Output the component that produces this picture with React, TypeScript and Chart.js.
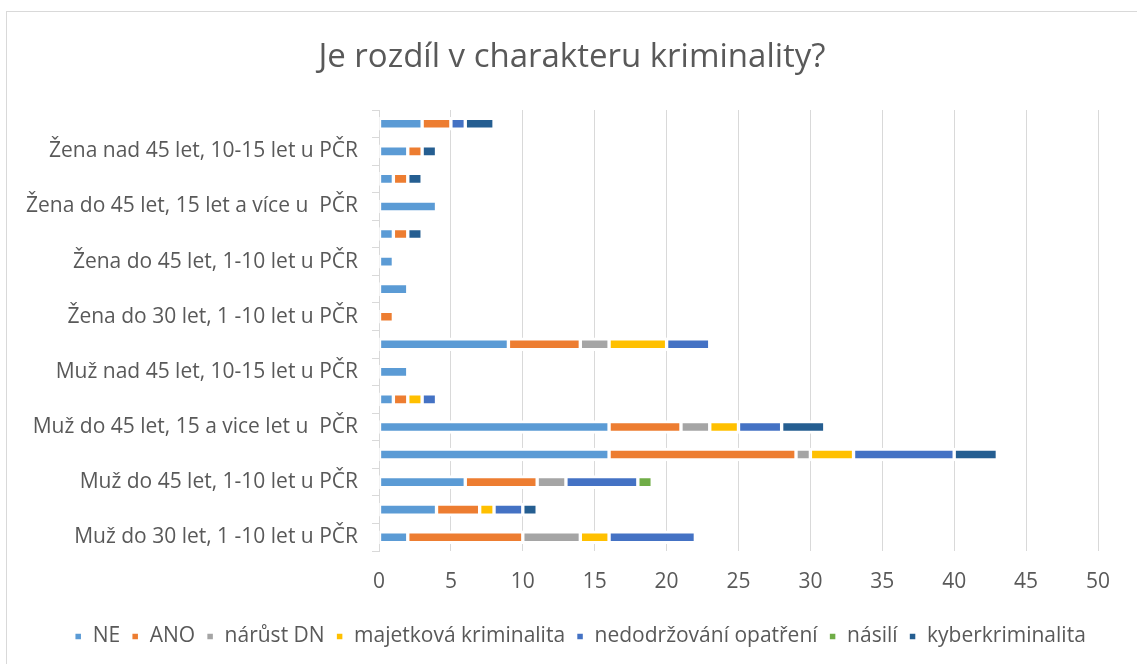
import React, { useEffect, useRef } from "react";
import { Chart, registerables } from "chart.js";

Chart.register(...registerables);

const categories = [
  "Muž do 30 let, 1 -10 let u PČR",
  "Muž do 30 let, 10-15 let u PČR",
  "Muž do 45 let, 1-10 let u PČR",
  "Muž do 45 let, 10-15 let u PČR",
  "Muž do 45 let, 15 a vice let u  PČR",
  "Muž nad 45 let, 1-10 let u PČR",
  "Muž nad 45 let, 10-15 let u PČR",
  "Muž nad 45 let, 15 a více let u PČR",
  "Žena do 30 let, 1 -10 let u PČR",
  "Žena do 30 let, 10-15 let u PČR",
  "Žena do 45 let, 1-10 let u PČR",
  "Žena do 45 let, 10-15 let u PČR",
  "Žena do 45 let, 15 let a více u  PČR",
  "Žena nad 45 let, 1-10 let u PČR",
  "Žena nad 45 let, 10-15 let u PČR",
  "Žena nad 45 let, 15 let a více u PČR",
];

const ne = [2, 4, 6, 16, 16, 1, 2, 9, 0, 2, 1, 1, 4, 1, 2, 3];
const ano = [8, 3, 5, 13, 5, 1, 0, 5, 1, 0, 0, 1, 0, 1, 1, 2];
const narustDN = [4, 0, 2, 1, 2, 0, 0, 2, 0, 0, 0, 0, 0, 0, 0, 0];
const majetkova = [2, 1, 0, 3, 2, 1, 0, 4, 0, 0, 0, 0, 0, 0, 0, 0];
const nedodrzovani = [6, 2, 5, 7, 3, 1, 0, 3, 0, 0, 0, 0, 0, 0, 0, 1];
const nasili = [0, 0, 1, 0, 0, 0, 0, 0, 0, 0, 0, 0, 0, 0, 0, 0];
const kyber = [0, 1, 0, 3, 3, 0, 0, 0, 0, 0, 0, 1, 0, 1, 1, 2];

const seriesNames = [
  "NE",
  "ANO",
  "nárůst DN",
  "majetková kriminalita",
  "nedodržování opatření",
  "násilí",
  "kyberkriminalita",
];
const seriesValues = [ne, ano, narustDN, majetkova, nedodrzovani, nasili, kyber];
const seriesColors = ["#5B9BD5", "#ED7D31", "#A5A5A5", "#FFC000", "#4472C4", "#70AD47", "#255E91"];

const xTicks = [0, 5, 10, 15, 20, 25, 30, 35, 40, 45, 50];

const FONT = "'Open Sans', sans-serif";
const TEXT = "#595959";
const GRID = "#D9D9D9";

const frame = {
  id: "frame",
  beforeDraw(chart: any) {
    const ctx = chart.ctx;
    ctx.save();
    ctx.fillStyle = "#ffffff";
    ctx.fillRect(0, 0, chart.width, chart.height);
    ctx.strokeStyle = GRID;
    ctx.lineWidth = 1;
    ctx.strokeRect(6.5, 11.5, 1200, 700);
    ctx.restore();
  },
};

const centerShift = {
  id: "centerShift",
  afterLayout(chart: any) {
    if (chart.legend) {
      chart.legend.left += 26;
      chart.legend.right += 26;
    }
    if (chart.titleBlock) {
      chart.titleBlock.left += 18;
      chart.titleBlock.right += 18;
    }
  },
};

export default function App() {
  const ref = useRef<HTMLCanvasElement>(null);
  useEffect(() => {
    if (!ref.current) return;
    const chart = new Chart(ref.current, {
      type: "bar",
      data: {
        labels: categories,
        datasets: seriesNames.map((name, i) => ({
          label: name,
          data: seriesValues[i],
          backgroundColor: seriesColors[i],
          borderColor: "#ffffff",
          borderWidth: { top: 3, bottom: 3, left: 2, right: 2 },
          borderSkipped: false,
          barThickness: 13,
        })),
      },
      plugins: [frame, centerShift],
      options: {
        indexAxis: "y",
        responsive: false,
        animation: false,
        layout: { padding: { top: 0, left: 10, right: 39, bottom: 7 } },
        plugins: {
          title: {
            display: true,
            text: "Je rozdíl v charakteru kriminality?",
            color: TEXT,
            font: { family: FONT, size: 33, weight: "normal" },
            padding: { top: 38, bottom: 32.4 },
          },
          legend: {
            position: "bottom",
            labels: {
              color: TEXT,
              font: { family: FONT, size: 21 },
              boxWidth: 8,
              boxHeight: 8,
              padding: 11,
            },
          },
          tooltip: { enabled: false },
        },
        scales: {
          x: {
            stacked: true,
            min: 0,
            max: 50,
            afterBuildTicks: (scale: any) => {
              scale.ticks = xTicks.map((v) => ({ value: v }));
            },
            afterFit: (scale: any) => {
              scale.height = 64;
            },
            ticks: { color: TEXT, font: { family: FONT, size: 21 }, padding: 18 },
            grid: { color: GRID, drawTicks: false, lineWidth: 1 },
            border: { display: false },
          },
          y: {
            stacked: true,
            reverse: true,
            afterFit: (scale: any) => {
              scale.width = 369;
            },
            ticks: {
              color: TEXT,
              font: { family: FONT, size: 21 },
              autoSkip: false,
              padding: 14,
              callback: (_v: any, i: number) => (i % 2 === 0 ? categories[i] : ""),
            },
            grid: { drawOnChartArea: false, drawTicks: true, tickLength: 7, color: GRID },
            border: { display: true, color: GRID, width: 1 },
          },
        },
      },
    });
    return () => chart.destroy();
  }, []);
  return (
    <div style={{ position: "fixed", left: 0, top: 0, width: 1137, height: 664, background: "#fff" }}>
      <canvas ref={ref} width={1137} height={664} />
    </div>
  );
}
